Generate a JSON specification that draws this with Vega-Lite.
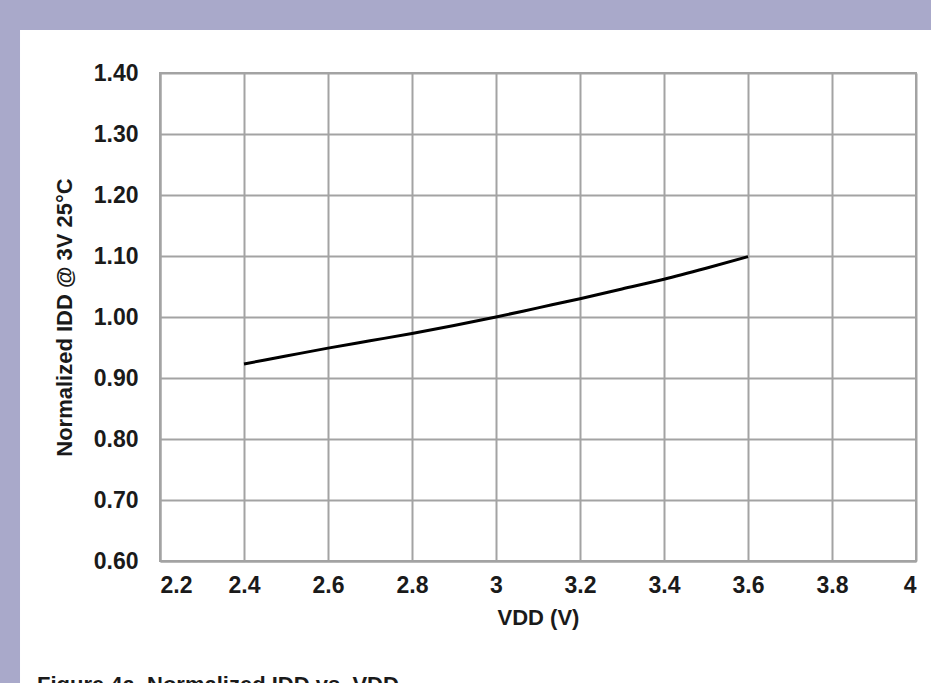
{
  "$schema": "https://vega.github.io/schema/vega-lite/v6.json",
  "width": 756,
  "height": 488,
  "autosize": {"type": "none"},
  "padding": {"left": 160, "top": 73, "right": 15, "bottom": 122},
  "background": "white",
  "config": {
    "view": {"stroke": "#a3a3a3", "strokeWidth": 2, "fill": "white"},
    "font": "Liberation Sans",
    "axis": {
      "grid": true,
      "labelFont": "Liberation Sans",
      "labelFontSize": 23,
      "labelFontWeight": "bold",
      "labelColor": "#1a1a1a",
      "titleFont": "Liberation Sans",
      "titleFontSize": 22,
      "titleFontWeight": "bold",
      "titleColor": "#1a1a1a",
      "gridColor": "#a3a3a3",
      "gridWidth": 2,
      "gridOpacity": 1,
      "domainColor": "#a3a3a3",
      "domainWidth": 2,
      "ticks": false
    }
  },
  "title": {
    "text": "Figure 4a. Normalized IDD vs. VDD",
    "orient": "bottom",
    "anchor": "start",
    "frame": "group",
    "dx": -123,
    "offset": -8,
    "font": "Liberation Sans",
    "fontSize": 22,
    "fontWeight": "bold",
    "color": "#1a1a1a"
  },
  "layer": [
    {
      "data": {"values": [{}]},
      "mark": {"type": "rect", "color": "#a9a9ca", "clip": false},
      "encoding": {
        "x": {"datum": 1.5, "type": "quantitative", "scale": {"domain": [2.2, 4], "nice": false}},
        "x2": {"datum": 4.6},
        "y": {"datum": 1.4705, "type": "quantitative", "scale": {"domain": [0.6, 1.4], "nice": false, "zero": false}},
        "y2": {"datum": 2.0}
      }
    },
    {
      "data": {"values": [{}]},
      "mark": {"type": "rect", "color": "#a9a9ca", "clip": false},
      "encoding": {
        "x": {"datum": 1.5, "type": "quantitative"},
        "x2": {"datum": 1.8667},
        "y": {"datum": 0.4, "type": "quantitative"},
        "y2": {"datum": 2.0}
      }
    },
    {
      "data": {
        "values": [
          {"vdd": 2.4, "idd": 0.923},
          {"vdd": 2.5, "idd": 0.936},
          {"vdd": 2.6, "idd": 0.949},
          {"vdd": 2.7, "idd": 0.961},
          {"vdd": 2.8, "idd": 0.973},
          {"vdd": 2.9, "idd": 0.986},
          {"vdd": 3.0, "idd": 1.0},
          {"vdd": 3.1, "idd": 1.015},
          {"vdd": 3.2, "idd": 1.03},
          {"vdd": 3.3, "idd": 1.046},
          {"vdd": 3.4, "idd": 1.062},
          {"vdd": 3.5, "idd": 1.08},
          {"vdd": 3.6, "idd": 1.099}
        ]
      },
      "mark": {"type": "line", "color": "black", "strokeWidth": 3, "interpolate": "monotone"},
      "encoding": {
        "x": {
          "field": "vdd",
          "type": "quantitative",
          "scale": {"domain": [2.2, 4], "nice": false},
          "axis": {
            "grid": true,
            "title": "VDD (V)",
            "values": [2.2, 2.4, 2.6, 2.8, 3.0, 3.2, 3.4, 3.6, 3.8, 4.0],
            "format": "~g",
            "labelPadding": 13,
            "titlePadding": 10
          }
        },
        "y": {
          "field": "idd",
          "type": "quantitative",
          "scale": {"domain": [0.6, 1.4], "nice": false, "zero": false},
          "axis": {
            "grid": true,
            "title": "Normalized IDD @ 3V 25°C",
            "values": [0.6, 0.7, 0.8, 0.9, 1.0, 1.1, 1.2, 1.3, 1.4],
            "format": ".2f",
            "labelPadding": 22,
            "titlePadding": 17
          }
        }
      }
    }
  ]
}
